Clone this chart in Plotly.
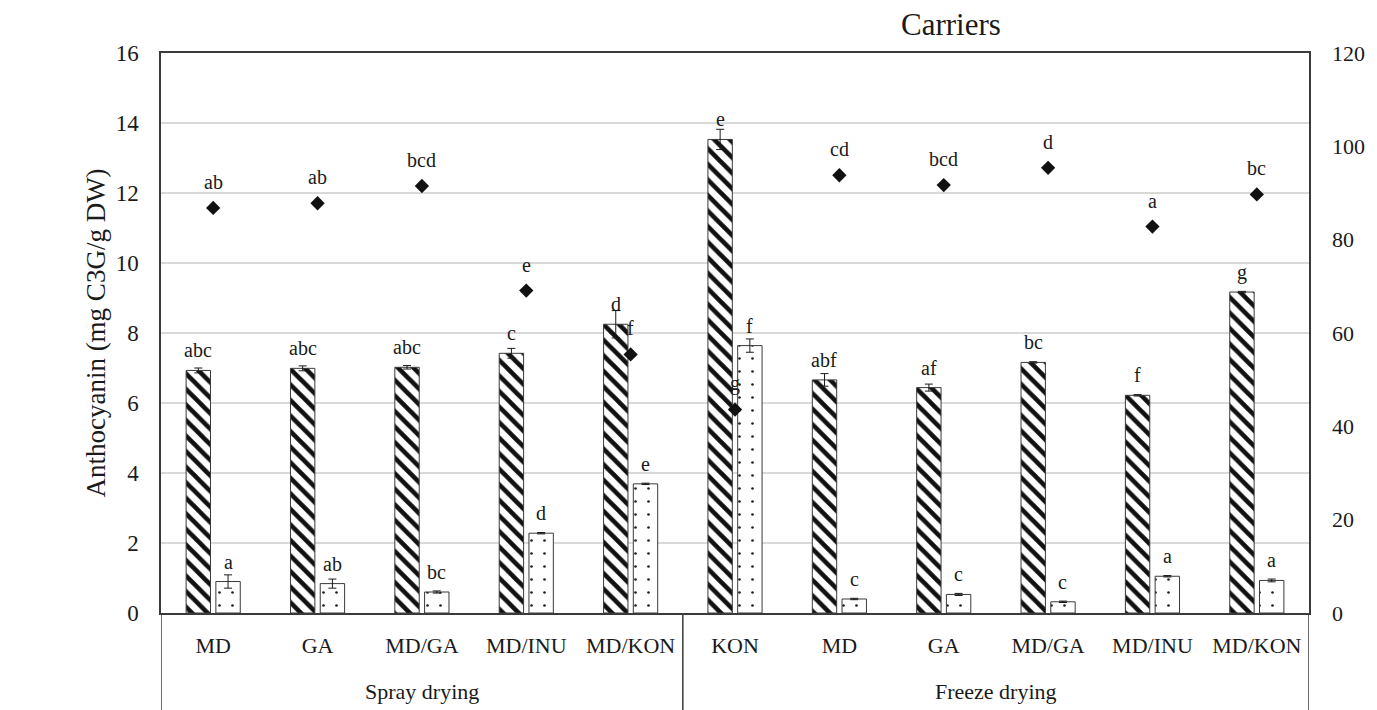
import plotly.graph_objects as go

# ---- data ----
groups = ["Spray drying"] * 5 + ["Freeze drying"] * 6
carriers = ["MD", "GA", "MD/GA", "MD/INU", "MD/KON", "KON", "MD", "GA", "MD/GA", "MD/INU", "MD/KON"]

hatched_vals = [6.93, 6.99, 7.02, 7.42, 8.25, 13.53, 6.66, 6.44, 7.16, 6.22, 9.17]
hatched_err = [0.07, 0.07, 0.05, 0.14, 0.39, 0.29, 0.18, 0.10, 0.02, 0.02, 0.02]
hatched_lbl = ["abc", "abc", "abc", "c", "d", "e", "abf", "af", "bc", "f", "g"]

dotted_vals = [0.90, 0.84, 0.60, 2.28, 3.69, 7.64, 0.40, 0.53, 0.32, 1.05, 0.93]
dotted_err = [0.19, 0.13, 0.03, 0.02, 0.02, 0.19, 0.02, 0.03, 0.02, 0.02, 0.04]
dotted_lbl = ["a", "ab", "bc", "d", "e", "f", "c", "c", "c", "a", "a"]

diamond_vals = [86.8, 87.8, 91.5, 69.1, 55.4, 43.6, 93.8, 91.7, 95.4, 82.8, 89.7]
diamond_lbl = ["ab", "ab", "bcd", "e", "f", "g", "cd", "bcd", "d", "a", "bc"]

y_ticks = [0, 2, 4, 6, 8, 10, 12, 14, 16]
y2_ticks = [0, 20, 40, 60, 80, 100, 120]

FONT = "Liberation Serif"
INK = "#1a1a1a"
FRAME = "#3a3a3a"
BARGAP = 0.43
BARGROUPGAP = 0.18
PAGE_OFFSET = 8  # default body margin of the html page

xpos = list(range(len(carriers)))

fig = go.Figure()
fig.add_trace(go.Bar(
    x=xpos, y=hatched_vals, name="hatched",
    marker=dict(color="white", line=dict(color=FRAME, width=1),
                pattern=dict(shape="\\", fgcolor="#111111", bgcolor="white",
                             size=11, solidity=0.42, fillmode="replace")),
    error_y=dict(type="data", array=hatched_err, color=INK, thickness=1, width=4),
))
fig.add_trace(go.Bar(
    x=xpos, y=dotted_vals, name="dotted",
    marker=dict(color="white", line=dict(color=FRAME, width=1),
                pattern=dict(shape=".", fgcolor="#222222", bgcolor="white",
                             size=13, solidity=0.035, fillmode="replace")),
    error_y=dict(type="data", array=dotted_err, color=INK, thickness=1, width=4),
))
fig.add_trace(go.Scatter(
    x=xpos, y=diamond_vals, yaxis="y2", mode="markers", name="diamond",
    marker=dict(symbol="diamond", size=11, color="#111111"),
))

off = (1 - BARGAP) / 4
annotations = []
for i in xpos:
    annotations.append(dict(x=i - off, y=hatched_vals[i], xref="x", yref="y",
                            text=hatched_lbl[i], showarrow=False, yanchor="middle",
                            yshift=20, font=dict(family=FONT, size=20, color=INK)))
    annotations.append(dict(x=i + off, y=dotted_vals[i], xref="x", yref="y",
                            text=dotted_lbl[i], showarrow=False, yanchor="middle",
                            yshift=20, font=dict(family=FONT, size=20, color=INK)))
    annotations.append(dict(x=i, y=diamond_vals[i], xref="x", yref="y2",
                            text=diamond_lbl[i], showarrow=False, yanchor="middle",
                            yshift=26, font=dict(family=FONT, size=20, color=INK)))

# group labels and dividers
shapes = []
group_names = []
for g in groups:
    if g not in group_names:
        group_names.append(g)
bounds = [-0.5]
for g in group_names:
    idx = [i for i in xpos if groups[i] == g]
    annotations.append(dict(x=sum(idx) / len(idx), y=-0.141, xref="x", yref="paper",
                            text=g, showarrow=False, xanchor="center", yanchor="middle",
                            font=dict(family=FONT, size=22, color=INK)))
    bounds.append(max(idx) + 0.5)
for b in bounds:
    shapes.append(dict(type="line", x0=b, x1=b, y0=0, y1=-0.25, xref="x", yref="paper",
                       line=dict(color=FRAME, width=1.5)))

annotations.append(dict(x=0.688, y=1.05, xref="paper", yref="paper", text="Carriers",
                        showarrow=False, xanchor="center", yanchor="middle",
                        font=dict(family=FONT, size=31, color=INK)))

fig.update_layout(
    width=1377 - PAGE_OFFSET, height=710 - PAGE_OFFSET,
    margin=dict(l=161 - PAGE_OFFSET, r=61, t=53 - PAGE_OFFSET, b=97),
    paper_bgcolor="white", plot_bgcolor="white",
    showlegend=False,
    barmode="group", bargap=BARGAP, bargroupgap=BARGROUPGAP,
    font=dict(family=FONT, color=INK),
    annotations=annotations,
    shapes=shapes,
    xaxis=dict(range=[-0.5, len(carriers) - 0.5], tickvals=xpos, ticktext=carriers,
               showline=True, linecolor=FRAME, linewidth=1.5, mirror=True,
               ticks="", showgrid=False, zeroline=False, ticklabelstandoff=12,
               tickfont=dict(family=FONT, size=22, color=INK)),
    yaxis=dict(range=[0, 16], tickvals=y_ticks, showline=True, linecolor=FRAME,
               linewidth=1.5, mirror=True, showgrid=True, gridcolor="#d9d9d9",
               gridwidth=1.5, zeroline=False, ticks="", ticklabelstandoff=16,
               tickfont=dict(family=FONT, size=23, color=INK),
               title=dict(text="Anthocyanin (mg C3G/g DW)", standoff=2,
                          font=dict(family=FONT, size=27, color=INK))),
    yaxis2=dict(range=[0, 120], tickvals=y2_ticks, overlaying="y", side="right",
                showgrid=False, zeroline=False, showline=False, ticks="",
                ticklabelstandoff=22,
                tickfont=dict(family=FONT, size=22, color=INK)),
)

fig.write_html("out.html")
